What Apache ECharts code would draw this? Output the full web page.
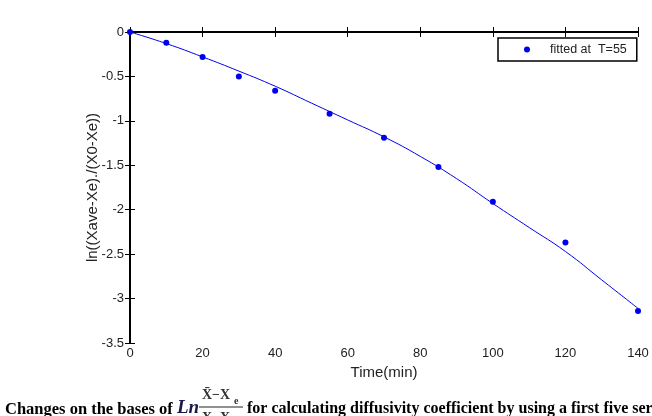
<!DOCTYPE html>
<html>
<head>
<meta charset="utf-8">
<script src="https://cdn.jsdelivr.net/npm/echarts@6/dist/echarts.min.js"></script>
<style>
  html, body { margin: 0; padding: 0; background: #fff; }
  #chart { width: 652px; height: 416px; }
</style>
</head>
<body>
<div id="chart"></div>
<script>
// measured points
var timeMin = [0, 10, 20, 30, 40, 55, 70, 85, 100, 120, 140];
var lnRatio = [0, -0.12, -0.28, -0.50, -0.66, -0.92, -1.19, -1.52, -1.91, -2.37, -3.14];
// fitted curve
var fitTime = [0, 10, 20, 30, 40, 50, 60, 70, 80, 90, 100, 110, 120, 130, 140];
var fitVal = [0, -0.13, -0.28, -0.44, -0.61, -0.80, -0.99, -1.18, -1.40, -1.65, -1.93, -2.20, -2.47, -2.79, -3.11];

var chart = echarts.init(document.getElementById('chart'));
var blue = '#0000ee';
var axisBase = {
  type: 'value',
  axisLine: { show: true, lineStyle: { color: '#000', width: 2 } },
  axisTick: { show: true, inside: true, length: 5, lineStyle: { color: '#000', width: 1 } },
  splitLine: { show: false },
  axisLabel: { color: '#222', fontSize: 13, fontFamily: 'Liberation Sans' }
};
var option = {
  animation: false,
  grid: { left: 130, right: 14, top: 32, bottom: 73 },
  legend: {
    left: 498, top: 38,
    orient: 'vertical',
    data: [{ name: 'fitted at  T=55', icon: 'circle' }],
    itemWidth: 6, itemHeight: 6, itemGap: 0,
    padding: [5, 10, 5, 26],
    borderColor: '#000', borderWidth: 1.5, borderRadius: 0,
    textStyle: { fontSize: 12.5, fontFamily: 'Liberation Sans', color: '#222', padding: [0, 0, 0, 15] }
  },
  xAxis: [
    Object.assign({}, axisBase, {
      min: 0, max: 140, interval: 20, position: 'bottom',
      name: 'Time(min)', nameLocation: 'middle', nameGap: 22,
      nameTextStyle: { fontSize: 15, fontFamily: 'Liberation Sans', color: '#222' },
      axisLabel: Object.assign({}, axisBase.axisLabel, { margin: 4 })
    }),
    Object.assign({}, axisBase, {
      min: 0, max: 140, interval: 20, position: 'top',
      axisLabel: { show: false }
    })
  ],
  yAxis: [
    Object.assign({}, axisBase, {
      min: -3.5, max: 0, interval: 0.5, position: 'left',
      name: 'ln((Xave-Xe)./(X0-Xe))', nameLocation: 'middle', nameGap: 30,
      nameMoveOverlap: false,
      nameTextStyle: { fontSize: 15, fontFamily: 'Liberation Sans', color: '#222' },
      axisLabel: Object.assign({}, axisBase.axisLabel, { margin: 6 })
    }),
    Object.assign({}, axisBase, {
      min: -3.5, max: 0, interval: 0.5, position: 'right',
      axisLabel: { show: false }
    })
  ],
  series: [
    {
      name: 'fitted at  T=55', type: 'scatter', symbol: 'circle', symbolSize: 6,
      itemStyle: { color: blue, opacity: 1 },
      data: timeMin.map(function (t, i) { return [t, lnRatio[i]]; }),
      z: 3
    },
    {
      name: 'fit', type: 'line', showSymbol: false, smooth: true,
      lineStyle: { color: blue, width: 1 },
      data: fitTime.map(function (t, i) { return [t, fitVal[i]]; }),
      z: 2
    }
  ],
  graphic: [
    { type: 'text', left: 5, top: 401, style: { text: 'Changes on the bases of', font: 'bold 16.5px "Liberation Serif"', fill: '#000' } },
    { type: 'text', left: 177, top: 399, style: { text: 'Ln', font: 'italic bold 19px "Liberation Serif"', fill: '#1a1a4a' } },
    { type: 'text', left: 202, top: 388, style: { text: 'X\u0304\u2212X', font: 'bold 14px "Liberation Serif"', fill: '#333' } },
    { type: 'text', left: 234, top: 396, style: { text: 'e', font: 'bold 10px "Liberation Serif"', fill: '#333' } },
    { type: 'line', shape: { x1: 199, y1: 407, x2: 243, y2: 407 }, style: { stroke: '#222', lineWidth: 1 } },
    { type: 'text', left: 202, top: 411, style: { text: 'X\u2212X', font: 'bold 14px "Liberation Serif"', fill: '#333' } },
    { type: 'text', left: 247, top: 401, style: { text: 'for calculating diffusivity coefficient by using a first five series', font: 'bold 16px "Liberation Serif"', fill: '#000' } }
  ]
};
chart.setOption(option);
</script>
</body>
</html>
